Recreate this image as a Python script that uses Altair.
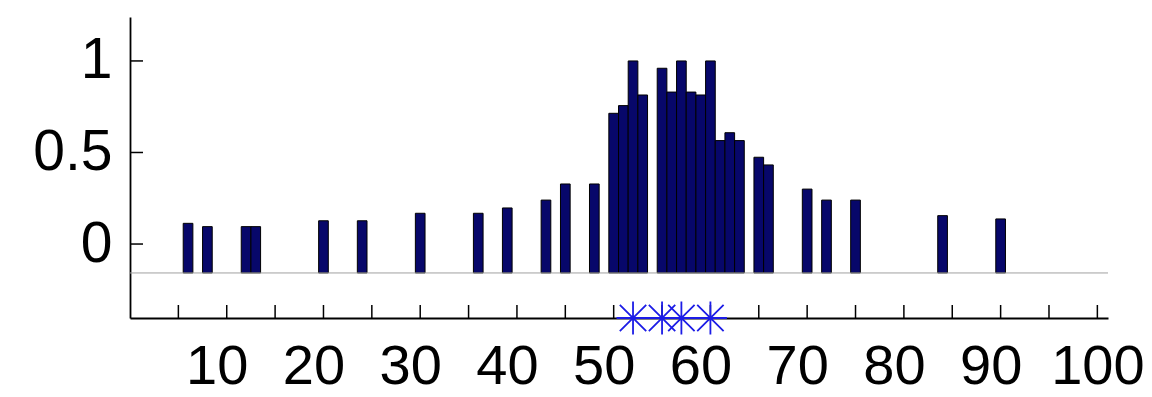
import altair as alt
import pandas as pd

# ---- data ----
bin_centers = [6, 8, 12, 13, 20, 24, 30, 36, 39, 43, 45, 48, 50, 51, 52, 53,
               55, 56, 57, 58, 59, 60, 61, 62, 63, 65, 66, 70, 72, 75, 84, 90]
bin_heights = [0.113, 0.095, 0.095, 0.095, 0.127, 0.127, 0.168, 0.168, 0.197,
               0.24, 0.328, 0.328, 0.714, 0.756, 1.0, 0.814,
               0.96, 0.83, 1.0, 0.83, 0.814, 1.0, 0.565, 0.608, 0.565,
               0.474, 0.432, 0.30, 0.24, 0.24, 0.155, 0.137]
star_positions = [52, 55, 57, 60]
x_tick_values = list(range(5, 101, 5))
x_label_values = list(range(10, 101, 10))
y_tick_values = [0, 0.5, 1]
base_value = -0.158
x_domain = [0, 101.1]
y_domain = [-0.404, 1.24]
bin_width = 1.0

W, H = 978, 301
FONT = "Liberation Sans"

xs = alt.Scale(domain=x_domain, nice=False, zero=False)
ys = alt.Scale(domain=y_domain, nice=False, zero=False)

bars_df = pd.DataFrame({
    "x0": [c - bin_width / 2 for c in bin_centers],
    "x1": [c + bin_width / 2 for c in bin_centers],
    "h": bin_heights,
    "base": [base_value] * len(bin_centers),
})
stars_df = pd.DataFrame({"x": star_positions, "y": [y_domain[0]] * len(star_positions)})
xt_df = pd.DataFrame({"t": x_tick_values})
yt_df = pd.DataFrame({"t": y_tick_values})
base_df = pd.DataFrame({"y": [base_value]})

x_axis = alt.Axis(
    values=x_label_values, title=None, grid=False, tickSize=0,
    labelFont=FONT, labelFontSize=56, labelColor="black",
    labelBaseline="alphabetic", labelPadding=65, labelFlush=False,
    labelOverlap=False,
    labelOffset={"condition": {"test": "datum.value == 100", "value": 0}, "value": -10},
    domainColor="black", domainWidth=1.8,
)
y_axis = alt.Axis(
    values=y_tick_values, title=None, grid=False, tickSize=0, format="~g",
    labelFont=FONT, labelFontSize=57, labelColor="black", labelPadding=18,
    labelBaseline="middle",
    domainColor="black", domainWidth=1.8,
)

bars = alt.Chart(bars_df).mark_rect(fill="#07076a", stroke="#000000", strokeWidth=1).encode(
    x=alt.X("x0:Q", scale=xs, axis=x_axis),
    x2="x1:Q",
    y=alt.Y("h:Q", scale=ys, axis=y_axis),
    y2="base:Q",
)

baseline = alt.Chart(base_df).mark_rule(color="#a0a0a0", strokeWidth=1).encode(
    y=alt.Y("y:Q", scale=ys, axis=y_axis),
    x=alt.value(0), x2=alt.value(W),
)

xticks = alt.Chart(xt_df).mark_rule(color="black", strokeWidth=1.5).encode(
    x=alt.X("t:Q", scale=xs, axis=x_axis),
    y=alt.value(H), y2=alt.value(H - 13),
)

yticks = alt.Chart(yt_df).mark_rule(color="black", strokeWidth=1.5).encode(
    y=alt.Y("t:Q", scale=ys, axis=y_axis),
    x=alt.value(0), x2=alt.value(13),
)

star_path = "M0,-1L0,1M-1,0L1,0M-0.8,-0.8L0.8,0.8M-0.8,0.8L0.8,-0.8"
stars = alt.Chart(stars_df).mark_point(
    shape=star_path, size=1089, filled=False, stroke="#1c1ce6", strokeWidth=1.8, opacity=1
).encode(
    x=alt.X("x:Q", scale=xs, axis=x_axis),
    y=alt.Y("y:Q", scale=ys, axis=y_axis),
)

chart = alt.layer(bars, baseline, xticks, yticks, stars).properties(
    width=W, height=H,
    autosize="none",
    padding={"left": 122, "top": 9, "right": 36, "bottom": 77},
    background="white",
).configure_view(stroke=None)

chart.save("out.html", embed_options={"renderer": "svg", "actions": False})
